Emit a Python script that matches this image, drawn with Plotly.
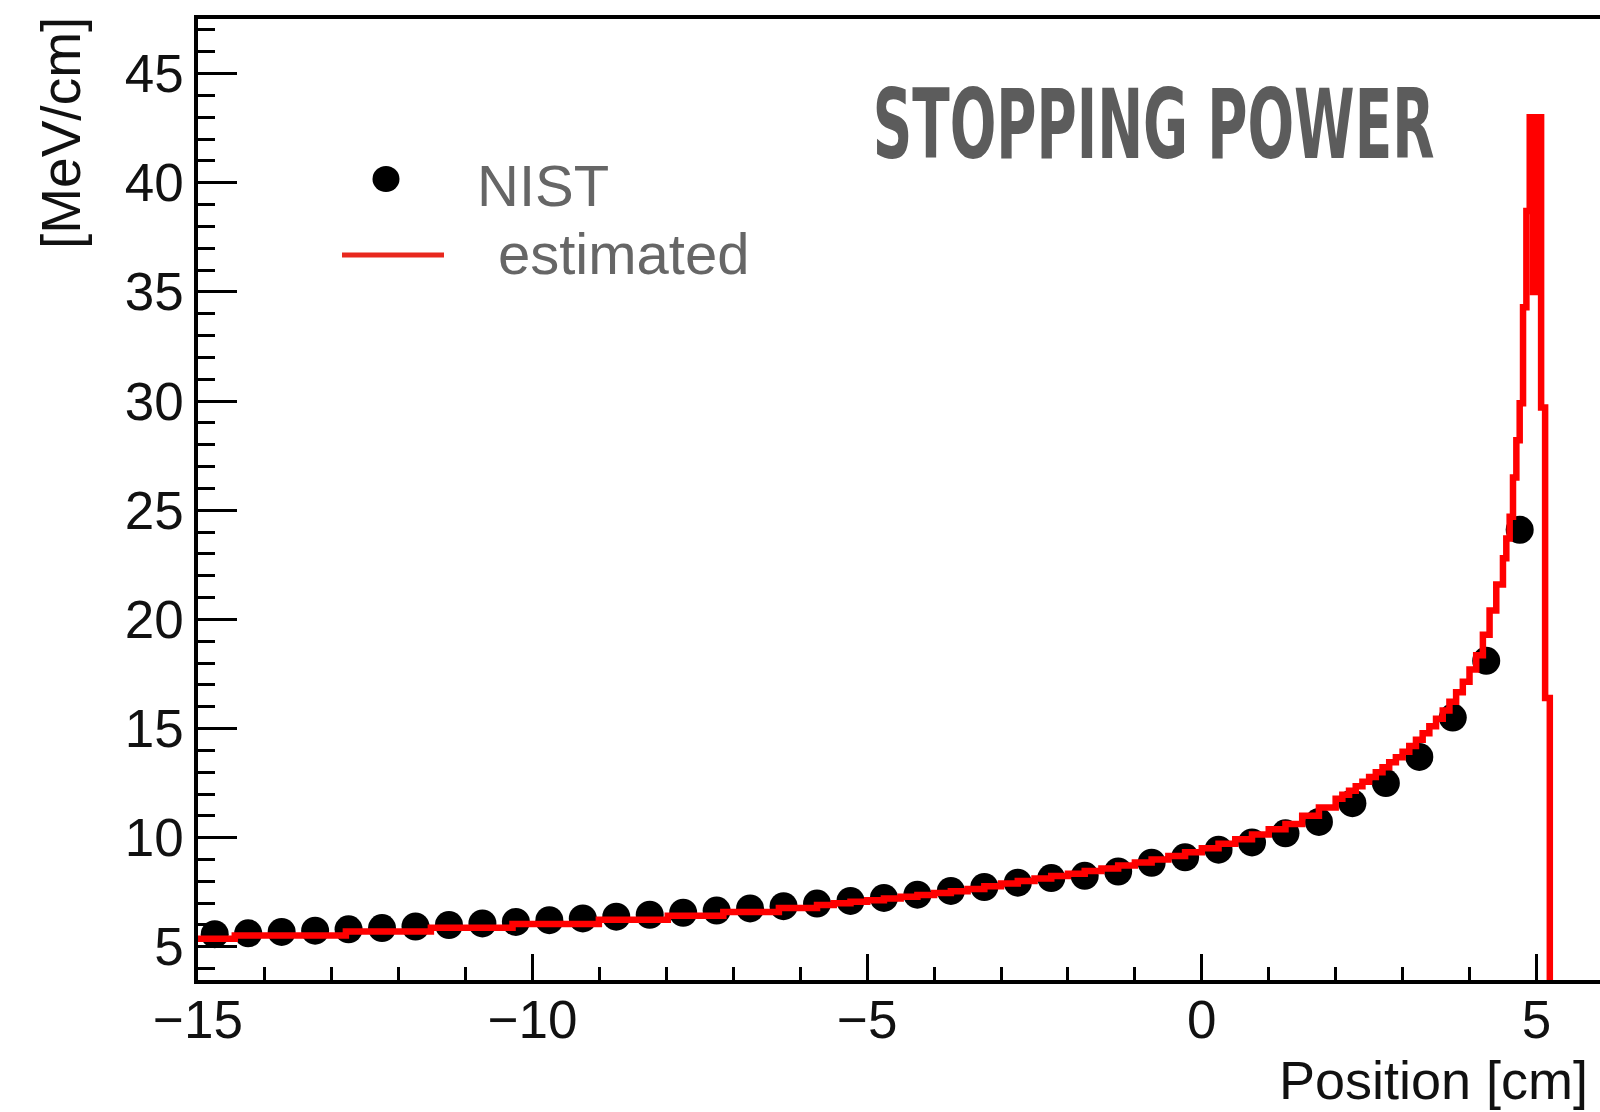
import plotly.graph_objects as go

# NIST stopping power samples (position in cm, dE/dx in MeV/cm)
nist_pos = [-14.75, -14.25, -13.75, -13.25, -12.75, -12.25, -11.75, -11.25,
            -10.75, -10.25, -9.75, -9.25, -8.75, -8.25, -7.75, -7.25,
            -6.75, -6.25, -5.75, -5.25, -4.75, -4.25, -3.75, -3.25,
            -2.75, -2.25, -1.75, -1.25, -0.75, -0.25, 0.25, 0.75,
            1.25, 1.75, 2.25, 2.75, 3.25, 3.75, 4.25, 4.75]
nist_dedx = [5.58, 5.62, 5.68, 5.74, 5.80, 5.86, 5.93, 6.00,
             6.07, 6.14, 6.22, 6.30, 6.38, 6.47, 6.56, 6.66,
             6.76, 6.86, 6.98, 7.10, 7.24, 7.39, 7.56, 7.74,
             7.94, 8.15, 8.25, 8.45, 8.85, 9.10, 9.45, 9.78,
             10.20, 10.72, 11.58, 12.50, 13.70, 15.50, 18.10, 24.10]

# Estimated stopping power histogram: bin edges (one more than values)
est_edges = [-15.00, -14.45, -12.79, -11.52, -10.30, -9.01, -7.98, -7.15, -6.32,
             -5.75, -5.50, -5.25, -5.00, -4.75, -4.50, -4.25, -4.00, -3.75, -3.50,
             -3.25, -3.00, -2.75, -2.50, -2.25, -2.00, -1.75, -1.50, -1.25, -1.00,
             -0.75, -0.50, -0.25, 0.00, 0.25, 0.50, 0.75, 1.00, 1.25, 1.50, 1.75,
             2.00, 2.10, 2.20, 2.30, 2.40, 2.50, 2.60, 2.70, 2.80, 2.90,
             3.00, 3.10, 3.20, 3.30, 3.40, 3.50, 3.60, 3.70, 3.80, 3.90,
             4.00, 4.10, 4.20, 4.30, 4.40,
             4.50, 4.55, 4.60, 4.65, 4.70, 4.75, 4.80, 4.85, 4.90, 4.95,
             5.00, 5.07, 5.13, 5.20, 6.00]
est_dedx = [5.37, 5.52, 5.70, 5.87, 6.05, 6.24, 6.42, 6.60, 6.78,
            6.92, 6.99, 7.06, 7.13, 7.21, 7.29, 7.37, 7.46, 7.55, 7.65,
            7.77, 7.90, 8.02, 8.13, 8.24, 8.35, 8.47, 8.59, 8.72, 8.86,
            9.00, 9.16, 9.33, 9.52, 9.72, 9.93, 10.15, 10.38, 10.63, 11.00, 11.38,
            11.78, 11.96, 12.15, 12.35, 12.56, 12.78, 13.00, 13.22, 13.45, 13.68,
            13.93, 14.20, 14.48, 14.78, 15.10, 15.45, 15.82, 16.22, 16.66, 17.14,
            17.70, 18.35, 19.30, 20.40, 21.60,
            22.80, 23.70, 24.70, 26.50, 28.20, 29.90, 34.30, 38.70, 43.00, 35.00,
            43.00, 29.70, 16.40, 0.00]

x_range = [-15, 5.95]
y_range = [3.48, 47.5]

TITLE_TEXT = "STOPPING POWER"
TITLE_WIDTH_PX = 562  # condensed headline width

# plot-area geometry in pixels (used to place the hand-drawn legend and labels)
W, H = 1600, 1112
L, R, T, B = 198, 0, 19, 132
pw, ph = W - L - R, H - T - B


def px(x):
    return (x - L) / pw


def py(y):
    return (H - B - y) / ph


TICK_FONT = dict(family="Liberation Sans, Arial, Helvetica, sans-serif", size=53, color="#111111")

fig = go.Figure()

fig.add_trace(go.Scatter(
    x=nist_pos, y=nist_dedx, mode="markers", name="NIST",
    marker=dict(symbol="circle", size=28, color="black", line=dict(width=0)),
))

step_x = list(est_edges)
step_y = list(est_dedx) + [est_dedx[-1]]
fig.add_trace(go.Scatter(
    x=step_x, y=step_y, mode="lines", name="estimated",
    line=dict(color="#ff0000", width=6.5, shape="hv"),
))

fig.update_layout(
    width=W, height=H,
    margin=dict(l=L, r=R, t=T, b=B, pad=0),
    paper_bgcolor="white", plot_bgcolor="white",
    showlegend=False,
    xaxis=dict(
        range=x_range, tick0=-15, dtick=5,
        ticks="inside", ticklen=26, tickwidth=3, tickcolor="black",
        showline=True, linewidth=3.5, linecolor="black", mirror=True,
        showgrid=False, zeroline=False, tickfont=TICK_FONT,
        ticklabelstandoff=-9,
        minor=dict(ticks="inside", dtick=1, tick0=-15, ticklen=13, tickwidth=3,
                   tickcolor="black", showgrid=False),
    ),
    yaxis=dict(
        range=y_range, tick0=0, dtick=5,
        ticks="inside", ticklen=39, tickwidth=3, tickcolor="black",
        showline=True, linewidth=3.5, linecolor="black", mirror=False,
        showgrid=False, zeroline=False, tickfont=TICK_FONT,
        minor=dict(ticks="inside", dtick=1, tick0=0, ticklen=17, tickwidth=3,
                   tickcolor="black", showgrid=False),
    ),
)

annotations = [
    dict(text=TITLE_TEXT, x=px(1153), y=py(124), xref="paper", yref="paper",
         xanchor="center", yanchor="middle", showarrow=False,
         font=dict(family="DejaVu Sans Condensed, DejaVu Sans, sans-serif",
                   size=97, color="#5c5c5c", weight="bold")),
    dict(text="[MeV/cm]", x=px(61), y=py(15), xref="paper", yref="paper",
         xanchor="center", yanchor="top", textangle=-90, showarrow=False,
         font=dict(family="Liberation Sans, Arial, sans-serif", size=55, color="#111111")),
    dict(text="Position [cm]", x=1, y=py(1080), xref="paper", yref="paper",
         xanchor="right", yanchor="middle", xshift=-10, showarrow=False,
         font=dict(family="Liberation Sans, Arial, sans-serif", size=54, color="#111111")),
    dict(text="NIST", x=px(475), y=py(185), xref="paper", yref="paper",
         xanchor="left", yanchor="middle", showarrow=False,
         font=dict(family="Liberation Sans, Arial, sans-serif", size=58, color="#666666")),
    dict(text="estimated", x=px(496), y=py(253), xref="paper", yref="paper",
         xanchor="left", yanchor="middle", showarrow=False,
         font=dict(family="Liberation Sans, Arial, sans-serif", size=58, color="#666666")),
]
fig.update_layout(annotations=annotations)

shapes = [
    dict(type="circle", xref="paper", yref="paper",
         xsizemode="pixel", ysizemode="pixel",
         xanchor=px(386), yanchor=py(179), x0=-13.5, x1=13.5, y0=-13, y1=13,
         fillcolor="black", line=dict(width=0)),
    dict(type="line", xref="paper", yref="paper",
         x0=px(342), x1=px(444), y0=py(255), y1=py(255),
         line=dict(color="#e8281e", width=5)),
]
fig.update_layout(shapes=shapes)

# Squeeze the headline horizontally around its centre to get a condensed face
condense_js = """
var gd = document.getElementById('{plot_id}');
function condenseTitle() {
  gd.querySelectorAll('text.annotation-text').forEach(function (t) {
    if (t.textContent === '%s') {
      t.removeAttribute('transform');
      var bb = t.getBBox();
      var cx = bb.x + bb.width / 2;
      var sx = %d / bb.width;
      t.setAttribute('transform',
        'translate(' + cx + ',0) scale(' + sx + ',1) translate(' + (-cx) + ',0)');
    }
  });
}
condenseTitle();
gd.on('plotly_afterplot', condenseTitle);
""" % (TITLE_TEXT, TITLE_WIDTH_PX)

fig.write_html("out.html", post_script=condense_js)
